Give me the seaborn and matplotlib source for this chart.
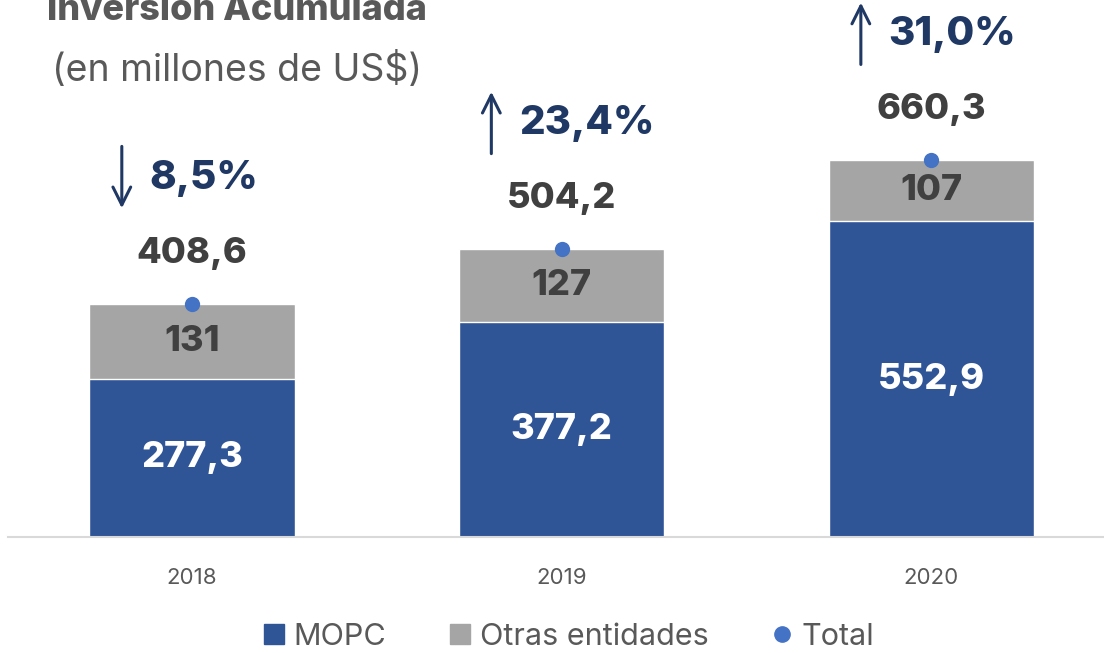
import numpy as np
import pandas as pd
import matplotlib
matplotlib.use("Agg")
import matplotlib.pyplot as plt
from matplotlib.lines import Line2D
import seaborn as sns

years = ["2018", "2019", "2020"]
mopc = [277.3, 377.2, 552.9]
otras = [131.3, 127.0, 107.4]
totals = [408.6, 504.2, 660.3]
mopc_labels = ["277,3", "377,2", "552,9"]
otras_labels = ["131", "127", "107"]
total_labels = ["408,6", "504,2", "660,3"]
change_labels = ["8,5%", "23,4%", "31,0%"]
change_dir = [-1, 1, 1]

BLUE = "#2F5597"
GRAY = "#A5A5A5"
DOT = "#4472C4"
NAVY = "#1F3864"
DARK = "#404040"
TXT = "#595959"

sns.set_style("white")
plt.rcParams["font.family"] = ["Inter", "DejaVu Sans"]

df = pd.DataFrame({"year": years, "mopc": mopc, "otras": otras, "total": totals})

fig = plt.figure(figsize=(11.04, 6.53), dpi=100)
ax = fig.add_axes([8 / 1104, 116 / 653, 1096 / 1104, 537 / 653])

sns.barplot(data=df, x="year", y="total", color=GRAY, saturation=1, width=0.555, ax=ax)
sns.barplot(data=df, x="year", y="mopc", color=BLUE, saturation=1, width=0.555, ax=ax)
sns.stripplot(data=df, x="year", y="total", jitter=False, color=DOT, size=11, ax=ax, zorder=5)

ax.set_xlim(-0.498, 2.468)
ax.set_ylim(0, 940)
ax.set_xlabel("")
ax.set_ylabel("")
ax.set_yticks([])
for s in ["top", "right", "left"]:
    ax.spines[s].set_visible(False)
ax.spines["bottom"].set_color("#D9D9D9")
ax.spines["bottom"].set_linewidth(1.5)
ax.tick_params(axis="x", length=0, pad=22, labelsize=16, labelcolor=TXT)

W = 800
for i in range(len(years)):
    ax.text(i, mopc[i] / 2, mopc_labels[i], ha="center", va="center",
            color="white", fontsize=26, fontweight=W)
    ax.text(i, mopc[i] + otras[i] / 2, otras_labels[i], ha="center", va="center",
            color=DARK, fontsize=26, fontweight=W)
    ax.text(i, totals[i] + 88, total_labels[i], ha="center", va="center",
            color=DARK, fontsize=26, fontweight=W)
    ax.text(i - 0.115, totals[i] + 219, change_labels[i], ha="left", va="center",
            color=NAVY, fontsize=29, fontweight=W)
    lo, hi = totals[i] + 162, totals[i] + 280
    start, end = (hi, lo) if change_dir[i] < 0 else (lo, hi)
    ax.annotate("", xy=(i - 0.19, end), xytext=(i - 0.19, start),
                arrowprops=dict(arrowstyle="->", color=NAVY, lw=2.2, mutation_scale=32))

fig.text(237 / 1104, 1 - 10 / 653, "Inversión Acumulada", ha="center", va="center",
         fontsize=26, fontweight=W, color=TXT)
fig.text(237 / 1104, 1 - 70 / 653, "(en millones de US$)", ha="center", va="center",
         fontsize=27, color=TXT)

handles = [
    Line2D([], [], marker="s", linestyle="", color=BLUE, markersize=15, label="MOPC"),
    Line2D([], [], marker="s", linestyle="", color=GRAY, markersize=15, label="Otras entidades"),
    Line2D([], [], marker="o", linestyle="", color=DOT, markersize=11, label="Total"),
]
fig.legend(handles=handles, loc="center", bbox_to_anchor=(565 / 1104, 1 - 637 / 653),
           ncol=3, frameon=False, fontsize=22, labelcolor=TXT,
           handletextpad=0.05, columnspacing=1.8, handlelength=1.2)

fig.savefig("out.png", dpi=100)
